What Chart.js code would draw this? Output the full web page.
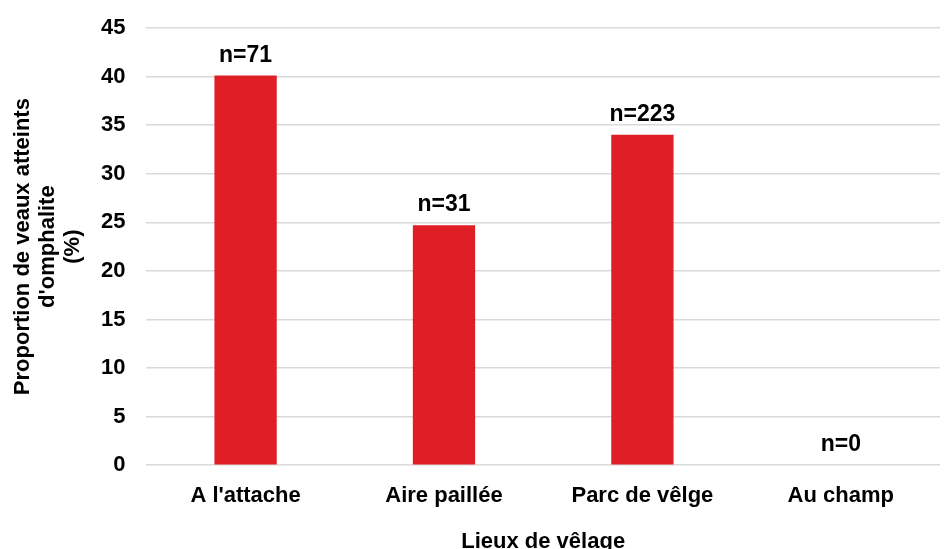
<!DOCTYPE html>
<html>
<head>
<meta charset="utf-8">
<script src="https://cdn.jsdelivr.net/npm/chart.js@4/dist/chart.umd.min.js"></script>
<style>
  html, body { margin: 0; padding: 0; background: #fff; }
  #wrap { width: 945px; height: 549px; }
</style>
</head>
<body>
<div id="wrap"><canvas id="chart" width="945" height="549"></canvas></div>
<script>
const lieux = ['A l\'attache', 'Aire paillée', 'Parc de vêlge', 'Au champ'];
const proportions = [40.1, 24.7, 34.0, 0];
const effectifs = ['n=71', 'n=31', 'n=223', 'n=0'];
const yTicks = [0, 5, 10, 15, 20, 25, 30, 35, 40, 45];

const fontFamily = '"Liberation Sans", Arial, sans-serif';

// writes the n= labels above each bar
const nLabels = {
    id: 'nLabels',
    afterDatasetsDraw(chart) {
        const ctx = chart.ctx;
        const meta = chart.getDatasetMeta(0);
        ctx.save();
        ctx.font = 'bold 23px ' + fontFamily;
        ctx.fillStyle = '#000';
        ctx.textAlign = 'center';
        ctx.textBaseline = 'alphabetic';
        meta.data.forEach((bar, i) => {
            ctx.fillText(effectifs[i], bar.x, bar.y - 14);
        });
        ctx.restore();
    }
};

new Chart(document.getElementById('chart'), {
    type: 'bar',
    data: {
        labels: lieux,
        datasets: [{
            data: proportions,
            backgroundColor: '#E01E25',
            borderWidth: 0,
            categoryPercentage: 1,
            barPercentage: 0.314
        }]
    },
    options: {
        responsive: false,
        animation: false,
        layout: { padding: { top: 28, right: 5, left: 10, bottom: -6 } },
        plugins: {
            legend: { display: false },
            tooltip: { enabled: false }
        },
        scales: {
            x: {
                grid: { display: false },
                border: { display: false },
                ticks: {
                    color: '#000',
                    font: { family: fontFamily, size: 22, weight: 'bold' },
                    padding: 10
                },
                title: {
                    display: true,
                    text: 'Lieux de vêlage',
                    color: '#000',
                    font: { family: fontFamily, size: 22, weight: 'bold' },
                    padding: { top: 9, bottom: 0 }
                }
            },
            y: {
                min: 0,
                max: 45,
                afterBuildTicks(axis) {
                    axis.ticks = yTicks.map(v => ({ value: v }));
                },
                afterFit(axis) {
                    // let the top gridline sit where the layout padding puts it
                    axis.paddingTop = 0;
                    axis.paddingBottom = 0;
                },
                grid: { color: '#d9d9d9', lineWidth: 1.5, drawTicks: false },
                border: { display: false },
                ticks: {
                    color: '#000',
                    font: { family: fontFamily, size: 22, weight: 'bold' },
                    padding: 21
                },
                title: {
                    display: true,
                    text: ['Proportion de veaux atteints', 'd\'omphalite', '(%)'],
                    color: '#000',
                    font: { family: fontFamily, size: 22, weight: 'bold', lineHeight: 1.15 },
                    padding: { top: 0, bottom: -6 }
                }
            }
        }
    },
    plugins: [nLabels]
});
</script>
</body>
</html>
